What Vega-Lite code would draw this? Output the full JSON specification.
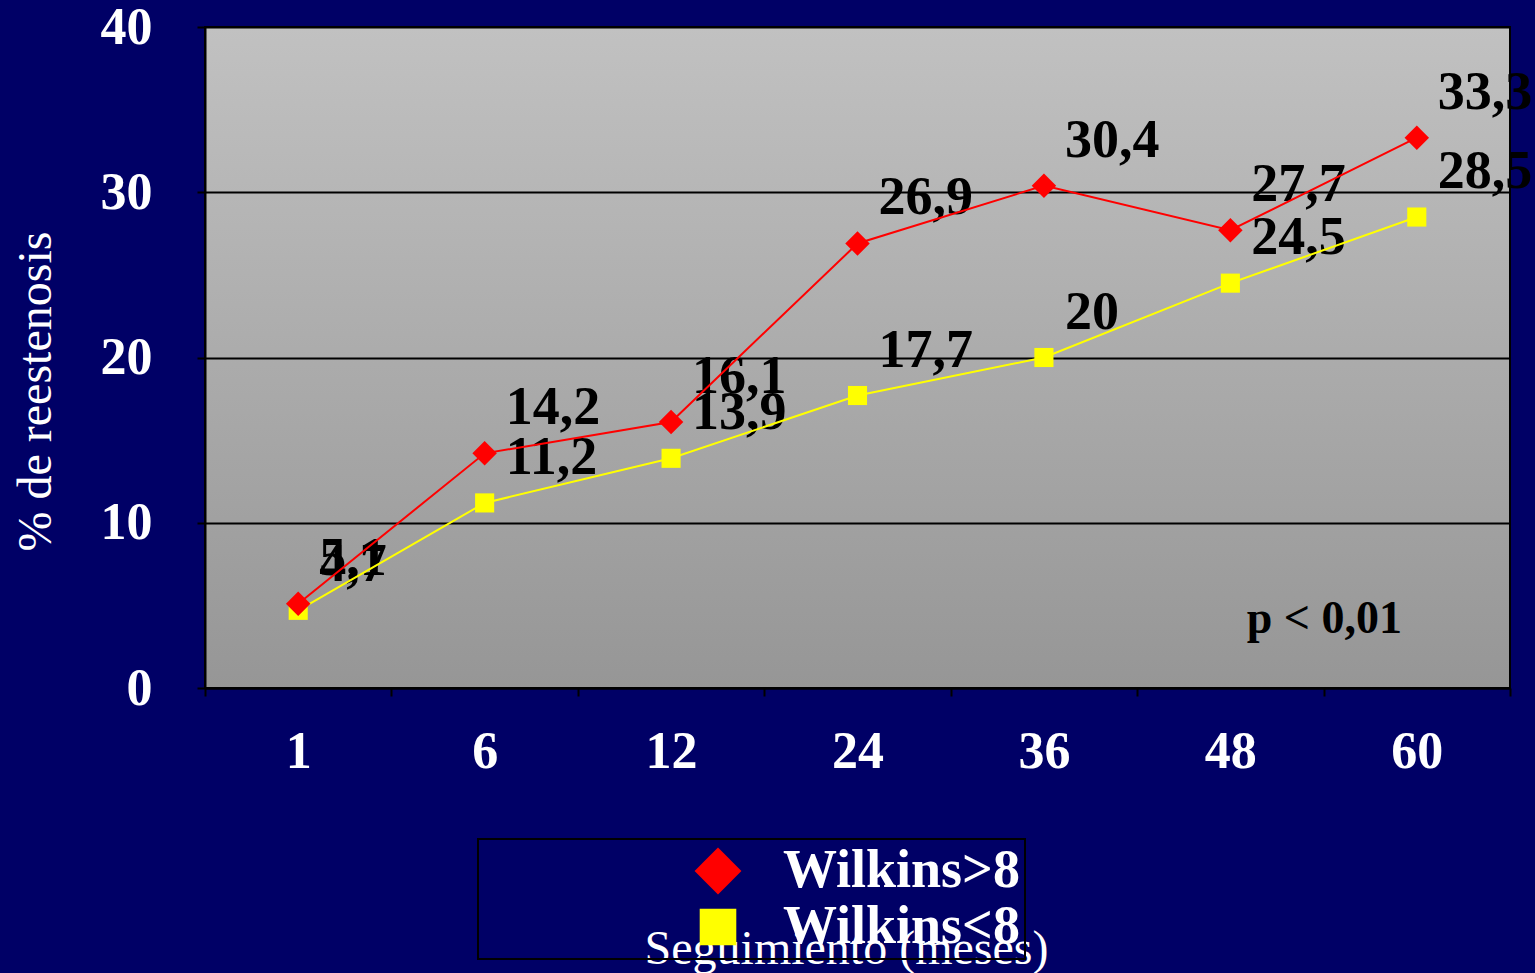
{
  "$schema": "https://vega.github.io/schema/vega-lite/v6.json",
  "width": 1305,
  "height": 661,
  "autosize": {"type": "none"},
  "padding": {"left": 205, "top": 27, "right": 25, "bottom": 285},
  "background": "#000066",
  "view": {
    "fill": {
      "gradient": "linear",
      "x1": 0, "y1": 0, "x2": 0, "y2": 1,
      "stops": [
        {"offset": 0, "color": "#c1c1c1"},
        {"offset": 1, "color": "#969696"}
      ]
    },
    "stroke": "#000000",
    "strokeWidth": 2
  },
  "config": {
    "font": "Liberation Serif",
    "axis": {
      "domainColor": "#000000",
      "domainWidth": 2,
      "tickColor": "#000000",
      "tickWidth": 2,
      "labelColor": "#ffffff",
      "labelFont": "Liberation Serif",
      "labelFontWeight": "bold",
      "labelFontSize": 52,
      "titleColor": "#ffffff",
      "titleFont": "Liberation Serif",
      "titleFontWeight": "normal"
    },
    "legend": {
      "orient": "none",
      "legendX": 273,
      "legendY": 812,
      "direction": "vertical",
      "padding": 5,
      "strokeColor": "#000000",
      "strokeWidth": 2,
      "symbolSize": 2200,
      "symbolStrokeWidth": 0,
      "symbolOffset": 208,
      "labelOffset": 38,
      "labelColor": "#ffffff",
      "labelFont": "Liberation Serif",
      "labelFontWeight": "bold",
      "labelFontSize": 54,
      "labelLimit": 2000,
      "rowPadding": 2
    }
  },
  "data": {
    "values": [
      {"mes": "1", "serie": "Wilkins<8", "pct": 4.7, "etiqueta": "4,7"},
      {"mes": "6", "serie": "Wilkins<8", "pct": 11.2, "etiqueta": "11,2"},
      {"mes": "12", "serie": "Wilkins<8", "pct": 13.9, "etiqueta": "13,9"},
      {"mes": "24", "serie": "Wilkins<8", "pct": 17.7, "etiqueta": "17,7"},
      {"mes": "36", "serie": "Wilkins<8", "pct": 20, "etiqueta": "20"},
      {"mes": "48", "serie": "Wilkins<8", "pct": 24.5, "etiqueta": "24,5"},
      {"mes": "60", "serie": "Wilkins<8", "pct": 28.5, "etiqueta": "28,5"},
      {"mes": "1", "serie": "Wilkins>8", "pct": 5.1, "etiqueta": "5,1"},
      {"mes": "6", "serie": "Wilkins>8", "pct": 14.2, "etiqueta": "14,2"},
      {"mes": "12", "serie": "Wilkins>8", "pct": 16.1, "etiqueta": "16,1"},
      {"mes": "24", "serie": "Wilkins>8", "pct": 26.9, "etiqueta": "26,9"},
      {"mes": "36", "serie": "Wilkins>8", "pct": 30.4, "etiqueta": "30,4"},
      {"mes": "48", "serie": "Wilkins>8", "pct": 27.7, "etiqueta": "27,7"},
      {"mes": "60", "serie": "Wilkins>8", "pct": 33.3, "etiqueta": "33,3"}
    ]
  },
  "encoding": {
    "x": {
      "field": "mes",
      "type": "ordinal",
      "sort": null,
      "scale": {"domain": ["1", "6", "12", "24", "36", "48", "60"], "paddingInner": 0, "paddingOuter": 0},
      "axis": {
        "title": "Seguimiento (meses)",
        "titleFontSize": 48,
        "titleX": 641,
        "titleY": 275,
        "titleBaseline": "alphabetic",
        "labelAngle": 0,
        "labelBaseline": "alphabetic",
        "labelPadding": 71,
        "tickSize": 8,
        "tickBand": "extent",
        "grid": false
      }
    },
    "y": {
      "field": "pct",
      "type": "quantitative",
      "scale": {"domain": [0, 40]},
      "axis": {
        "title": "% de reestenosis",
        "titleFontSize": 48,
        "titleAngle": -90,
        "titleAlign": "center",
        "titleBaseline": "alphabetic",
        "titleX": -155,
        "titleY": 364,
        "values": [0, 10, 20, 30, 40],
        "labelBaseline": "middle",
        "labelPadding": 45,
        "tickSize": 8,
        "grid": true,
        "gridColor": "#000000",
        "gridWidth": 2,
        "gridOpacity": 1
      }
    },
    "color": {
      "field": "serie",
      "type": "nominal",
      "scale": {"domain": ["Wilkins>8", "Wilkins<8"], "range": ["#ff0000", "#ffff00"]},
      "legend": {"title": null}
    }
  },
  "layer": [
    {
      "mark": {
        "type": "text",
        "align": "left",
        "baseline": "alphabetic",
        "dx": 21,
        "dy": -29,
        "font": "Liberation Serif",
        "fontWeight": "bold",
        "fontSize": 54
      },
      "encoding": {
        "text": {"field": "etiqueta"},
        "color": {"value": "#000000"}
      }
    },
    {
      "mark": {"type": "line", "strokeWidth": 2}
    },
    {
      "mark": {"type": "point", "filled": true, "size": 600, "opacity": 1},
      "encoding": {
        "shape": {
          "field": "serie",
          "type": "nominal",
          "scale": {"domain": ["Wilkins>8", "Wilkins<8"], "range": ["diamond", "M-0.78,-0.78H0.78V0.78H-0.78Z"]},
          "legend": {"title": null}
        }
      }
    },
    {
      "transform": [{"filter": "datum.mes == '48' && datum.serie == 'Wilkins<8'"}],
      "mark": {
        "type": "text",
        "align": "center",
        "baseline": "alphabetic",
        "dx": 94,
        "font": "Liberation Serif",
        "fontWeight": "bold",
        "fontSize": 46
      },
      "encoding": {
        "y": {"datum": 3.3},
        "text": {"value": "p < 0,01"},
        "color": {"value": "#000000"}
      }
    }
  ]
}
